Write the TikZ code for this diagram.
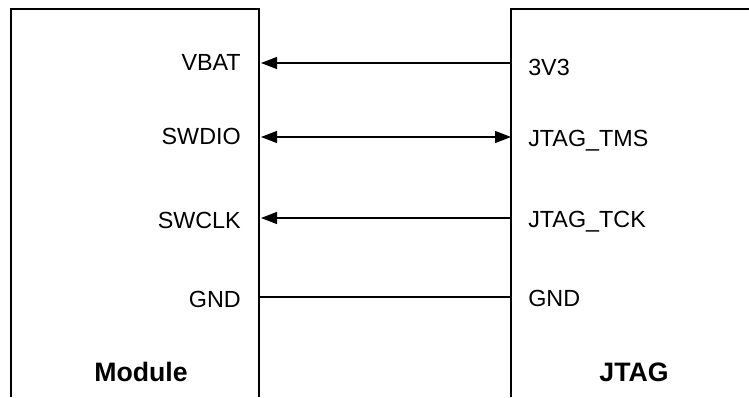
\documentclass[tikz,border=0pt]{standalone}
\usepackage{fontspec}
\setmainfont{Liberation Sans}
\usetikzlibrary{arrows.meta}

\begin{document}
\begin{tikzpicture}[
  x=0.75pt,y=-0.75pt,
  >={Triangle[length=12pt,width=9pt]},
  box/.style={line width=1pt},
  wire/.style={line width=0.8pt,shorten >=1.5pt},
  lpin/.style={anchor=base east,inner sep=0pt,font=\fontsize{17.5}{20}\selectfont},
  rpin/.style={anchor=base west,inner sep=0pt,font=\fontsize{17.5}{20}\selectfont},
  title/.style={anchor=base,inner sep=0pt,font=\fontsize{20}{24}\selectfont\bfseries}
]
\useasboundingbox (0,0) rectangle (749,397);

% the two boards, cut off at the bottom and right
\draw[box] (11,397) -- (11,9) -- (259,9) -- (259,397);
\draw[box] (511,397) -- (511,9) -- (749,9);

% module side
\node[lpin] (vbat) at (241,70) {VBAT};
\node[lpin] (swdio) at (241,144) {SWDIO};
\node[lpin] (swclk) at (241,228) {SWCLK};
\node[lpin] (mgnd) at (241,307) {GND};
\node[title] (module) at (141,381) {Module};

% jtag side
\node[rpin] (v33) at (528,75) {3V3};
\node[rpin] (tms) at (528,146) {JTAG\_TMS};
\node[rpin] (tck) at (528,227) {JTAG\_TCK};
\node[rpin] (jgnd) at (528,306) {GND};
\node[title] (jtag) at (634,381) {JTAG};

\coordinate (mA) at (259,63);
\coordinate (mB) at (259,137);
\coordinate (mC) at (259,218);
\coordinate (mD) at (259,297);
\coordinate (jA) at (511,63);
\coordinate (jB) at (511,137);
\coordinate (jC) at (511,218);
\coordinate (jD) at (511,297);

\draw[wire,->] (jA) -- (mA);
\draw[wire,<->,shorten <=0pt] (jB) -- (mB);
\draw[wire,->] (jC) -- (mC);
\draw[wire,shorten >=0pt] (jD) -- (mD);

\end{tikzpicture}
\end{document}
